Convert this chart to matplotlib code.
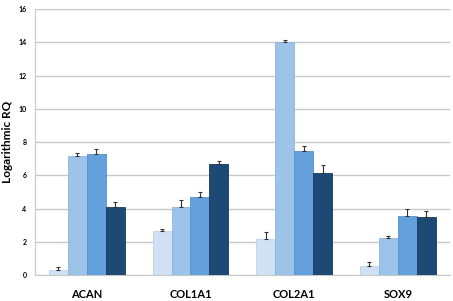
import numpy as np
import matplotlib
matplotlib.use("Agg")
import matplotlib.pyplot as plt

plt.rcParams["font.family"] = ["Lato", "DejaVu Sans"]

genes = ["ACAN", "COL1A1", "COL2A1", "SOX9"]
# four conditions per gene
cond1 = [0.30, 2.63, 2.16, 0.54]
cond2 = [7.17, 4.11, 13.99, 2.26]
cond3 = [7.27, 4.67, 7.47, 3.53]
cond4 = [4.11, 6.69, 6.15, 3.51]
err1 = [0.18, 0.16, 0.41, 0.24]
err2 = [0.18, 0.40, 0.14, 0.08]
err3 = [0.33, 0.30, 0.29, 0.42]
err4 = [0.28, 0.18, 0.48, 0.34]

series = [cond1, cond2, cond3, cond4]
errors = [err1, err2, err3, err4]
colors = ["#d0e1f4", "#9ec3e8", "#63a0dc", "#1d4a75"]
edges = ["#bcd3ec", "#8db5de", "#5590cc", "#163a5e"]

fig = plt.figure(figsize=(4.53, 3.01), dpi=100)
ax = fig.add_axes([0.077, 0.086, 0.916, 0.884])

x = np.arange(len(genes))
w = 0.183
for i, (vals, errs) in enumerate(zip(series, errors)):
    pos = x + (i - 1.5) * w
    ax.bar(pos, vals, width=w, color=colors[i], edgecolor=edges[i],
           linewidth=0.6, zorder=3)
    ax.errorbar(pos, vals, yerr=[np.zeros(len(errs)), errs], fmt="none",
                ecolor="#333333", elinewidth=0.8, capsize=1.5,
                capthick=0.8, zorder=4)

ax.set_xlim(-0.5, 3.5)
ax.set_ylim(0, 16)
ax.set_yticks(range(0, 17, 2))
ax.set_xticks(x)
ax.set_xticklabels(genes, fontsize=8, fontweight="bold")
ax.tick_params(axis="y", labelsize=5, length=0, pad=6)
ax.tick_params(axis="x", length=0, pad=10)
for lbl in ax.get_yticklabels():
    lbl.set_fontweight("bold")
ax.yaxis.grid(True, color="#c8c8c8", linewidth=1.0, zorder=0)
ax.set_axisbelow(True)
for s in ["top", "right"]:
    ax.spines[s].set_visible(False)
ax.spines["left"].set_color("#c8c8c8")
ax.spines["bottom"].set_color("#c8c8c8")
ax.set_ylabel("Logarithmic RQ", fontsize=8.5, fontweight="bold", labelpad=4)

fig.savefig("out.png", dpi=100)
